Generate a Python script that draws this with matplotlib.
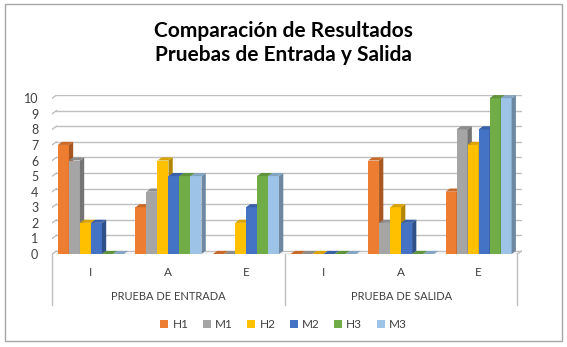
import numpy as np
import matplotlib
matplotlib.use("Agg")
import matplotlib.pyplot as plt
from matplotlib.patches import Polygon, Rectangle
from matplotlib.colors import to_rgb
import matplotlib.transforms as mtransforms

# data
categories = ["I", "A", "E", "I", "A", "E"]
groups = ["PRUEBA DE ENTRADA", "PRUEBA DE SALIDA"]
series = ["H1", "M1", "H2", "M2", "H3", "M3"]
H1 = [7, 3, 0, 0, 6, 4]
M1 = [6, 4, 0, 0, 2, 8]
H2 = [2, 6, 2, 0, 3, 7]
M2 = [2, 5, 3, 0, 2, 8]
H3 = [0, 5, 5, 0, 0, 10]
M3 = [0, 5, 5, 0, 0, 10]
colors = ["#ED7D31", "#A5A5A5", "#FFC000", "#4472C4", "#70AD47", "#9DC3E6"]

values = [H1, M1, H2, M2, H3, M3]

plt.rcParams['font.family'] = ['Lato', 'DejaVu Sans']

fig = plt.figure(figsize=(5.67, 3.47), dpi=100)
ax = fig.add_axes([0.092, 0.268, 0.828, 0.458])

W = 0.142   # bar width
DX = 0.055  # depth in x
DY = 0.2    # depth in y
x = np.arange(len(categories))


def shade(c, f):
    r, g, b = to_rgb(c)
    return (r * f, g * f, b * f)


# back wall grid
for yv in range(0, 11):
    ax.plot([-0.5 + DX, 5.5 + DX], [yv + DY, yv + DY], color="#BFBFBF", lw=1.0, zorder=0)
    ax.plot([-0.5, -0.5 + DX], [yv, yv + DY], color="#BFBFBF", lw=1.0, zorder=0)
ax.plot([-0.5, 5.5], [0, 0], color="#BFBFBF", lw=1.0, zorder=0)
ax.plot([5.5, 5.5 + DX], [0, DY], color="#BFBFBF", lw=1.0, zorder=0)

for i, (name, vals, c) in enumerate(zip(series, values, colors)):
    xs = x + (i - 2.5) * W
    ax.bar(xs, vals, width=W, color=c, edgecolor="none", zorder=2 + i, label=name)
    for xc, v in zip(xs, vals):
        x0, x1 = xc - W / 2, xc + W / 2
        side = Polygon([(x1, 0), (x1 + DX, DY), (x1 + DX, v + DY), (x1, v)],
                       closed=True, fc=shade(c, 0.7), ec="none", zorder=2 + i)
        top = Polygon([(x0, v), (x0 + DX, v + DY), (x1 + DX, v + DY), (x1, v)],
                      closed=True, fc=shade(c, 0.85), ec="none", zorder=2 + i)
        ax.add_patch(side)
        ax.add_patch(top)

ax.set_xlim(-0.5, 5.5 + DX)
ax.set_ylim(0, 10 + DY)
ax.set_yticks(range(0, 11))
ax.set_yticklabels([str(v) for v in range(0, 11)], fontsize=9, color="#404040")
ax.set_xticks(x)
ax.set_xticklabels(categories, fontsize=8.5, color="#404040")
ax.tick_params(axis="both", length=0)
ax.tick_params(axis="x", pad=9)
ax.tick_params(axis="y", pad=10)
for s in ax.spines.values():
    s.set_visible(False)

# group labels and separators under the axis
trans = mtransforms.blended_transform_factory(ax.transData, ax.transAxes)
for gx in [-0.5, 2.5, 5.5]:
    ax.plot([gx, gx], [0, -0.32], transform=trans, color="#BFBFBF", lw=1.0, clip_on=False)
for gi, g in enumerate(groups):
    ax.text(1 + 3 * gi, -0.27, g, transform=trans, ha="center", va="center",
            fontsize=8, color="#404040")

fig.text(0.5, 0.876, "Comparación de Resultados\nPruebas de Entrada y Salida",
         ha="center", va="center", fontsize=15, fontweight="bold", linespacing=1.2)

fig.legend(loc="center", bbox_to_anchor=(0.5, 0.065), ncol=6, frameon=False,
           fontsize=8.5, handlelength=0.7, handleheight=0.7, handletextpad=0.35,
           columnspacing=1.2, labelcolor="#404040")

fig.patches.append(Rectangle((0.009, 0.017), 0.982, 0.972, transform=fig.transFigure,
                             fill=False, ec="#A6A6A6", lw=1.0))

plt.savefig("out.png", dpi=100)
plt.close()
